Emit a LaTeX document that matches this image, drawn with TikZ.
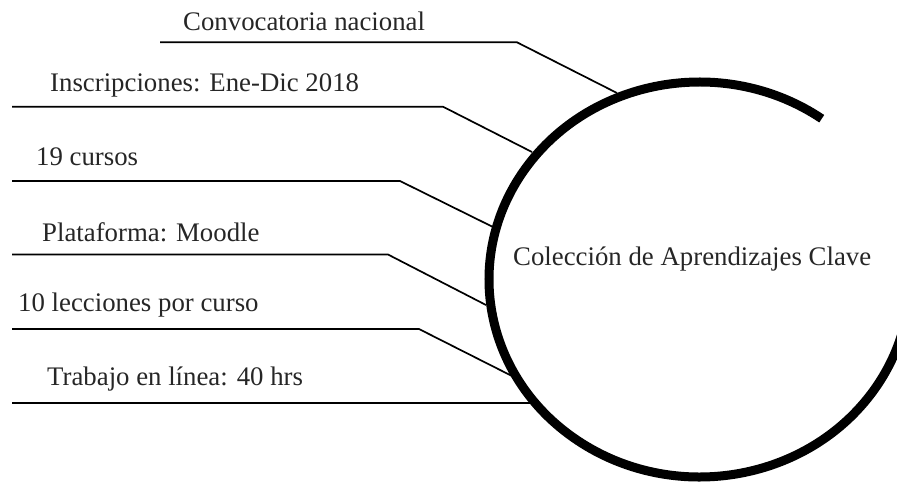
\documentclass[tikz,border=0pt]{standalone}
\usepackage{fontspec}
\setmainfont{Liberation Serif}
\begin{document}
\begin{tikzpicture}[x=1pt,y=-1pt,
  lbl/.style={anchor=base west,inner sep=0pt,font=\fontsize{26.8}{30}\selectfont,text=black!85},
  leader/.style={line width=1.7pt,black},
  ring/.style={line width=9pt,black}]
\useasboundingbox (0,0) rectangle (897,482);
\clip (0,0) rectangle (897,482);
% open ellipse arc
\coordinate (c) at (699.5,279.5);
\draw[ring] ([shift={(-54.5:210.5 and 197.5)}]c) arc[start angle=-54.5,end angle=-358,x radius=210.5,y radius=197.5];
\node[lbl] (center) at (513,265) {Colección de Aprendizajes Clave};
% labels
\node[lbl] (l1) at (183,30) {Convocatoria nacional};
\node[lbl] (l2) at (50,91) {Inscripciones: Ene-Dic 2018};
\node[lbl] (l3) at (36,165.5) {19 cursos};
\node[lbl] (l4) at (42,241.7) {Plataforma: Moodle};
\node[lbl] (l5) at (18,311.7) {10 lecciones por curso};
\node[lbl] (l6) at (47,385.5) {Trabajo en línea: 40 hrs};
% leader coordinates
\coordinate (a1) at (160,42.3); \coordinate (b1) at (517,42.3); \coordinate (e1) at (617,93);
\coordinate (a2) at (12,106.7); \coordinate (b2) at (443,106.7); \coordinate (e2) at (532,152);
\coordinate (a3) at (12,181);   \coordinate (b3) at (400,181);   \coordinate (e3) at (493,227);
\coordinate (a4) at (12,254.5); \coordinate (b4) at (388,254.5); \coordinate (e4) at (486,305);
\coordinate (a5) at (12,329);   \coordinate (b5) at (419,329);   \coordinate (e5) at (512,376);
\coordinate (a6) at (12,402.7); \coordinate (e6) at (531,402.7);
\draw[leader] (a1) -- (b1) -- (e1);
\draw[leader] (a2) -- (b2) -- (e2);
\draw[leader] (a3) -- (b3) -- (e3);
\draw[leader] (a4) -- (b4) -- (e4);
\draw[leader] (a5) -- (b5) -- (e5);
\draw[leader] (a6) -- (e6);
\end{tikzpicture}
\end{document}
